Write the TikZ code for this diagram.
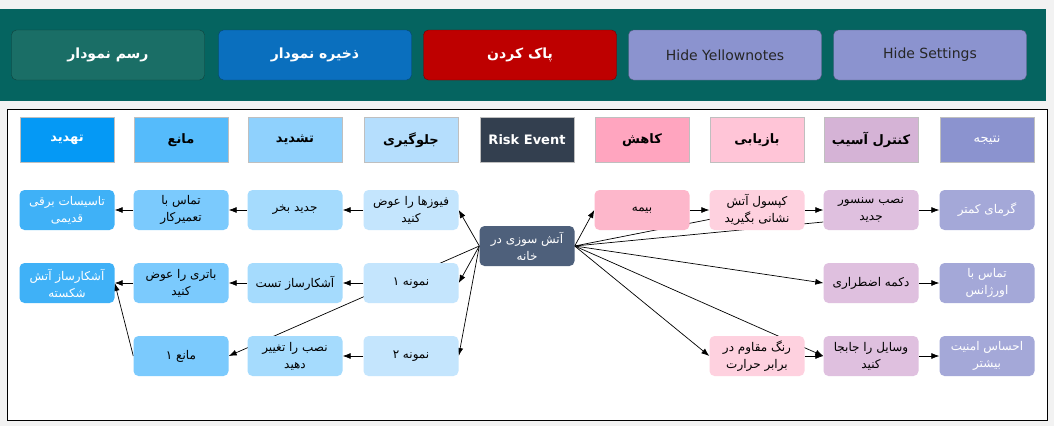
\documentclass[tikz,border=0pt]{standalone}
\usepackage{fontspec}
\setmainfont{DejaVu Sans}
\newfontfamily\fafont[Script=Arabic]{DejaVu Sans}
\usetikzlibrary{backgrounds,arrows.meta}
\TeXXeTstate=1
\newcommand\fa[1]{{\fafont\beginR#1\endR}}

\definecolor{band}{HTML}{056460}
\definecolor{hTahdid}{HTML}{0599F5}
\definecolor{hMane}{HTML}{55BBFB}
\definecolor{hTashdid}{HTML}{8FD1FD}
\definecolor{hJelo}{HTML}{B5DEFD}
\definecolor{hRisk}{HTML}{333F4F}
\definecolor{hKahesh}{HTML}{FFA5BF}
\definecolor{hBaz}{HTML}{FFC5D7}
\definecolor{hKontrol}{HTML}{D5B3D6}
\definecolor{hNatije}{HTML}{8B93CF}
\definecolor{cTahdid}{HTML}{3FB1F7}
\definecolor{cMane}{HTML}{7BCAFD}
\definecolor{cTashdid}{HTML}{A5DBFD}
\definecolor{cJelo}{HTML}{C4E5FD}
\definecolor{cRisk}{HTML}{4E607B}
\definecolor{cKahesh}{HTML}{FDB7CB}
\definecolor{cBaz}{HTML}{FED1DF}
\definecolor{cKontrol}{HTML}{DFC0DF}
\definecolor{cNatije}{HTML}{A4A8D8}
\definecolor{bGreen}{HTML}{1A6E66}
\definecolor{bBlue}{HTML}{0A6FBE}
\definecolor{bRed}{HTML}{BE0000}

\tikzset{
  btn/.style={draw=#1!60!black, fill=#1, rounded corners=5pt, minimum width=193pt, minimum height=50pt, font=\fontsize{14}{16}\selectfont},
  head/.style={draw=gray!50, fill=#1, minimum width=94pt, minimum height=45pt, font=\bfseries\fontsize{13}{15}\selectfont},
  box/.style={fill=#1, rounded corners=5pt, minimum width=95pt, minimum height=40pt, align=center, inner sep=1pt, font=\fontsize{12}{17}\selectfont},
  link/.style={-{Latex[length=8pt,width=6pt]}, line width=0.7pt}
}

\begin{document}
\begin{tikzpicture}[x=1pt,y=-1pt]
\useasboundingbox (0,0) rectangle (1054,426);

% buttons
\node[btn=bGreen, text=white] (draw) at (108,55) {\fa{\bfseries رسم نمودار}};
\node[btn=bBlue, text=white] (save) at (315,55) {\fa{\bfseries ذخیره نمودار}};
\node[btn=bRed, text=white] (clear) at (520,55) {\fa{\bfseries پاک کردن}};
\node[btn=hNatije, text=black!85] (yellow) at (725,55) {Hide Yellownotes};
\node[btn=hNatije, text=black!85] (settings) at (930,55) {Hide Settings};

% headers
\node[head=hTahdid, text=white] (hTa) at (67,140) {\fa{\bfseries تهدید}};
\node[head=hMane] (hMa) at (181,140) {\fa{\bfseries مانع}};
\node[head=hTashdid] (hTs) at (295,140) {\fa{\bfseries تشدید}};
\node[head=hJelo] (hJe) at (411,140) {\fa{\bfseries جلوگیری}};
\node[head=hRisk, text=white] (hRi) at (527,140) {Risk Event};
\node[head=hKahesh] (hKa) at (642,140) {\fa{\bfseries کاهش}};
\node[head=hBaz] (hBa) at (757,140) {\fa{\bfseries بازیابی}};
\node[head=hKontrol] (hKo) at (871,140) {\fa{\bfseries کنترل آسیب}};
\node[head=hNatije, text=white, font=\fontsize{13}{15}\selectfont] (hNa) at (987,140) {\fa{نتیجه}};

% left side
\node[box=cTahdid, text=white] (tasisat) at (67,210) {\fa{تاسیسات برقی}\\\fa{قدیمی}};
\node[box=cTahdid, text=white] (shekaste) at (67,283) {\fa{آشکارساز آتش}\\\fa{شکسته}};
\node[box=cMane] (tamirkar) at (181,210) {\fa{تماس با}\\\fa{تعمیرکار}};
\node[box=cMane] (batri) at (181,283) {\fa{باتری را عوض}\\\fa{کنید}};
\node[box=cMane] (mane1) at (181,356) {\fa{مانع ۱}};
\node[box=cTashdid] (bokhar) at (295,210) {\fa{جدید بخر}};
\node[box=cTashdid] (test) at (295,283) {\fa{آشکارساز تست}};
\node[box=cTashdid] (taghir) at (295,356) {\fa{نصب را تغییر}\\\fa{دهید}};
\node[box=cJelo] (fiuz) at (411,210) {\fa{فیوزها را عوض}\\\fa{کنید}};
\node[box=cJelo] (nemune1) at (411,283) {\fa{نمونه ۱}};
\node[box=cJelo] (nemune2) at (411,356) {\fa{نمونه ۲}};

% event
\node[box=cRisk, text=white] (event) at (527,246) {\fa{آتش سوزی در}\\\fa{خانه}};

% right side
\node[box=cKahesh] (bime) at (642,210) {\fa{بیمه}};
\node[box=cBaz] (kapsul) at (757,210) {\fa{کپسول آتش}\\\fa{نشانی بگیرید}};
\node[box=cBaz] (rang) at (757,356) {\fa{رنگ مقاوم در}\\\fa{برابر حرارت}};
\node[box=cKontrol] (sensor) at (871,210) {\fa{نصب سنسور}\\\fa{جدید}};
\node[box=cKontrol] (dokme) at (871,283) {\fa{دکمه اضطراری}};
\node[box=cKontrol] (vasayel) at (871,356) {\fa{وسایل را جابجا}\\\fa{کنید}};
\node[box=cNatije, text=white] (garma) at (987,210) {\fa{گرمای کمتر}};
\node[box=cNatije, text=white] (urgence) at (987,283) {\fa{تماس با}\\\fa{اورژانس}};
\node[box=cNatije, text=white] (amniat) at (987,356) {\fa{احساس امنیت}\\\fa{بیشتر}};

\begin{scope}[on background layer]
\fill[gray!10] (0,0) rectangle (1054,426);
\fill[band] (0,9) rectangle (1046,101);
\draw[fill=white] (7,109) rectangle (1047,420);
% from the event
\draw[link] (event.west) -- (fiuz.east);
\draw[link] (event.west) -- (nemune1.east);
\draw[link] (event.west) -- (nemune2.east);
\draw[link] (event.west) -- (mane1.east);
\draw[link] (event.east) -- (bime.west);
\draw[line width=0.7pt] (event.east) -- (kapsul.center);
\draw[line width=0.7pt] (event.east) -- ([yshift=-12pt]sensor.west);
\draw[link] (event.east) -- (dokme.west);
\draw[link] (event.east) -- (rang.west);
\draw[link] (event.east) -- (vasayel.west);
% chains
\draw[link] (fiuz) -- (bokhar);
\draw[link] (bokhar) -- (tamirkar);
\draw[link] (tamirkar) -- (tasisat);
\draw[link] (nemune1) -- (test);
\draw[link] (test) -- (batri);
\draw[link] (batri) -- (shekaste);
\draw[link] (nemune2) -- (taghir);
\draw[link] (mane1.west) -- (shekaste.east);
\draw[link] (bime) -- (kapsul);
\draw[link] (kapsul) -- (sensor);
\draw[link] (sensor) -- (garma);
\draw[link] (dokme) -- (urgence);
\draw[link] (rang) -- (vasayel);
\draw[link] (vasayel) -- (amniat);
\end{scope}
\end{tikzpicture}
\end{document}
